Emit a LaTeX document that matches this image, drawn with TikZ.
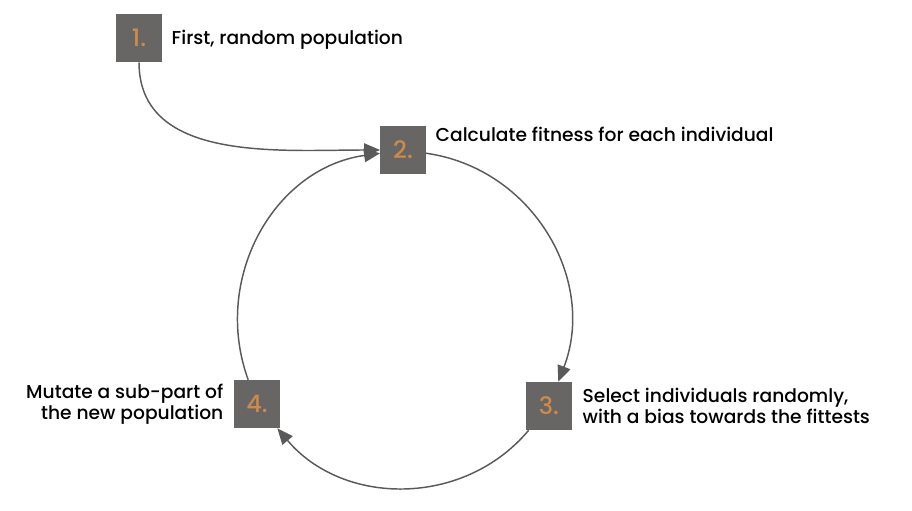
\documentclass[tikz,border=0pt]{standalone}
\usepackage{fontspec}
\setmainfont{Poppins}[UprightFont=* Medium, BoldFont=* SemiBold]
\usepackage{xcolor}
\usetikzlibrary{arrows.meta}
\definecolor{boxGray}{RGB}{104, 102, 100}
\definecolor{lineGray}{RGB}{90, 90, 90}
\definecolor{stepOrange}{RGB}{204, 138, 76}

\begin{document}
\begin{tikzpicture}[x=0.75pt, y=-0.75pt]
    \tikzstyle{stepbox} = [fill=boxGray, minimum width=34pt, minimum height=36pt, inner sep=0pt, font=\fontsize{18}{18}\selectfont, text=stepOrange]
    \tikzstyle{label} = [font=\fontsize{14}{16}\selectfont, text=black]
    \tikzstyle{arrow} = [-{Triangle[length=12pt, width=10pt]}, line width=1.1pt, lineGray]
    \useasboundingbox (0,0) rectangle (912,510);

    % Steps
    \node[stepbox] (s1) at (139,38) {1.};
    \node[stepbox] (s2) at (403,150) {2.};
    \node[stepbox] (s3) at (549,406) {3.};
    \node[stepbox] (s4) at (257,404) {4.};

    % Labels
    \node[label, anchor=west] (l1) at (167,40) {First, random population};
    \node[label, anchor=west] (l2) at (431,134) {Calculate fitness for each individual};
    \node[label, anchor=west, align=left] (l3) at (578,406) {Select individuals randomly,\\with a bias towards the fittests};
    \node[label, anchor=east, align=right] (l4) at (228,404) {Mutate a sub-part of\\the new population};

    % Arrows
    \draw[arrow] (s1) to[out=-90, in=180] (s2);
    \draw[arrow] (s2) to[out=-8, in=69, looseness=1.05] (s3);
    \draw[arrow] (s3) to[out=-130, in=-50, looseness=1.03] (s4);
    \draw[arrow] (s4) to[out=110, in=188, looseness=1.05] (s2);
\end{tikzpicture}
\end{document}
